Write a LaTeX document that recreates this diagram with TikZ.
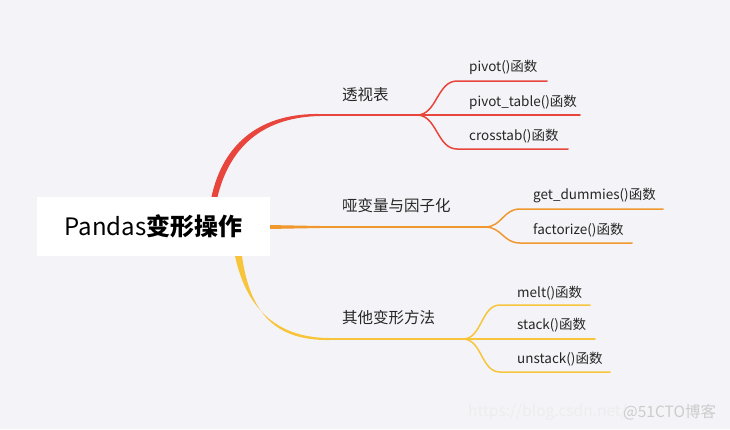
\documentclass[tikz,border=0pt]{standalone}
\usepackage{fontspec}
\setmainfont{Noto Sans CJK SC}
\usepackage{tikz}
\usetikzlibrary{positioning}

\definecolor{bgcol}{HTML}{F4F4F8}
\definecolor{redbr}{HTML}{E8453C}
\definecolor{orangebr}{HTML}{F0982E}
\definecolor{yellowbr}{HTML}{F6C53C}

\tikzset{
  rootbox/.style={fill=white,minimum width=233pt,minimum height=59pt,inner sep=0pt,font=\fontsize{24}{26}\selectfont},
  branchlabel/.style={anchor=west,inner sep=0pt,text=black!85,font=\fontsize{15.5}{17}\selectfont},
  leaflabel/.style={anchor=west,inner sep=0pt,text=black!85,font=\fontsize{13.5}{15}\selectfont},
  branchline/.style={line width=2pt,line cap=round},
  leafline/.style={line width=1.5pt,line cap=round},
  mark text/.style={anchor=west,inner sep=0pt,font=\fontsize{15.5}{17}\selectfont}
}

\begin{document}
\begin{tikzpicture}[x=1pt,y=-1pt]
  \fill[bgcol](0,0)rectangle(730,429);
  \useasboundingbox(0,0)rectangle(730,429);

  % main branches (tapered)
  \fill[redbr](211,199).. controls (223,140) and (264,113) .. (320,114)--(320,116).. controls (268,117) and (230,142) .. (217,199)--cycle;
  \fill[orangebr](268,225)--(320,226)--(320,228)--(268,229)--cycle;
  \fill[yellowbr](235,256).. controls (247,312) and (280,338) .. (330,338)--(330,340).. controls (276,341) and (250,314) .. (242,256)--cycle;

  % root
  \node[rootbox] (root) at (153.5,226.5) {Pandas{\bfseries 变形操作}};

  % red part
  \coordinate (r0) at (320,115);
  \coordinate (r1) at (417,115);
  \coordinate (ra) at (457,81);  \coordinate (ra') at (547,81);
  \coordinate (rb') at (580,115);
  \coordinate (rc) at (457,149); \coordinate (rc') at (568,149);
  \draw[branchline,redbr](r0)--(r1);
  \draw[leafline,redbr](r1).. controls (437,115) and (437,81) .. (ra)--(ra');
  \draw[leafline,redbr](r1)--(rb');
  \draw[leafline,redbr](r1).. controls (437,115) and (437,149) .. (rc)--(rc');
  \node[branchlabel] (pivtab) at (342,95) {透视表};
  \node[leaflabel] (pivot) at (469,67) {pivot()函数};
  \node[leaflabel] (pivottable) at (469,102) {pivot\_table()函数};
  \node[leaflabel] (crosstab) at (469,136) {crosstab()函数};

  % orange part
  \coordinate (o0) at (320,227);
  \coordinate (o1) at (485,227);
  \coordinate (oa) at (520,209); \coordinate (oa') at (663,209);
  \coordinate (ob) at (520,243); \coordinate (ob') at (632,243);
  \draw[branchline,orangebr](o0)--(o1);
  \draw[leafline,orangebr](o1).. controls (502,227) and (503,209) .. (oa)--(oa');
  \draw[leafline,orangebr](o1).. controls (502,227) and (503,243) .. (ob)--(ob');
  \node[branchlabel] (dummy) at (342,206) {哑变量与因子化};
  \node[leaflabel] (getdummies) at (533,196) {get\_dummies()函数};
  \node[leaflabel] (factorize) at (533,230) {factorize()函数};

  % yellow part
  \coordinate (y0) at (330,339);
  \coordinate (y1) at (463,339);
  \coordinate (ya) at (500,305); \coordinate (ya') at (590,305);
  \coordinate (yb') at (595,339);
  \coordinate (yc) at (500,372); \coordinate (yc') at (610,372);
  \draw[branchline,yellowbr](y0)--(y1);
  \draw[leafline,yellowbr](y1).. controls (482,339) and (481,305) .. (ya)--(ya');
  \draw[leafline,yellowbr](y1)--(yb');
  \draw[leafline,yellowbr](y1).. controls (482,339) and (481,372) .. (yc)--(yc');
  \node[branchlabel] (other) at (342,318) {其他变形方法};
  \node[leaflabel] (melt) at (517,293) {melt()函数};
  \node[leaflabel] (stack) at (517,325) {stack()函数};
  \node[leaflabel] (unstack) at (517,359) {unstack()函数};

  % watermark
  \node[mark text,text=black!7] (url) at (468,412) {https://blog.csdn.net/};
  \node[mark text,text=black!20] (site) at (623,412) {@51CTO博客};
\end{tikzpicture}
\end{document}
